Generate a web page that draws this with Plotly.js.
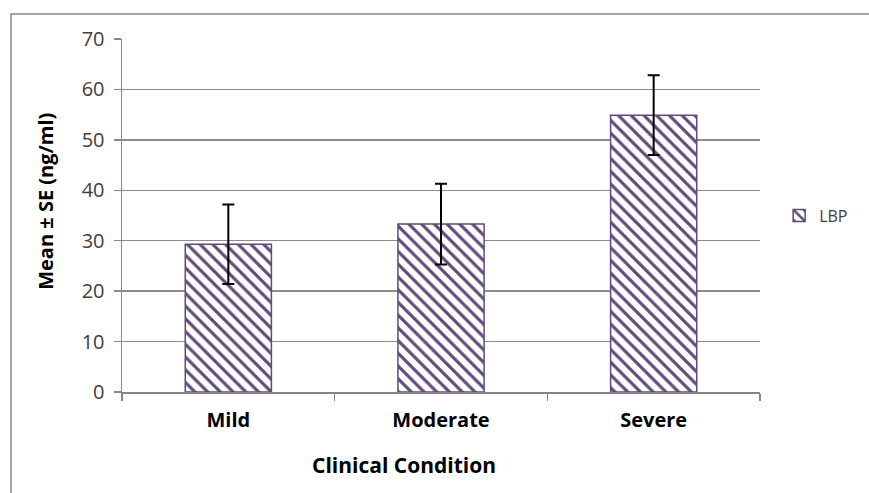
<!DOCTYPE html>
<html>
<head>
<meta charset="utf-8">
<script src="https://cdn.plot.ly/plotly-3.0.1.min.js"></script>
<style>html,body{margin:0;padding:0;background:#fff;}#chart{width:869px;height:493px;}</style>
</head>
<body>
<div id="chart"></div>
<script>
const categories = ["Mild", "Moderate", "Severe"];
const meanValues = [29.3, 33.3, 54.9];
const seValues = [7.9, 8.0, 7.9];
const seriesName = "LBP";
const yTicks = [0, 10, 20, 30, 40, 50, 60, 70];
const xTitle = "Clinical Condition";
const yTitle = "Mean ± SE (ng/ml)";

const purple = "#604A7B";
const trace = {
  type: "bar",
  x: categories,
  y: meanValues,
  name: seriesName,
  width: 0.405,
  marker: {
    color: "#ffffff",
    line: {color: purple, width: 1.5},
    pattern: {shape: "\\", fgcolor: purple, bgcolor: "#ffffff", size: 9, solidity: 0.35, fillmode: "replace"}
  },
  error_y: {type: "data", array: seValues, visible: true, color: "#000000", thickness: 2, width: 6}
};

const layout = {
  width: 869, height: 493,
  margin: {l: 122, r: 109, t: 39, b: 101},
  paper_bgcolor: "#ffffff", plot_bgcolor: "#ffffff",
  font: {family: "Open Sans, Liberation Sans, sans-serif", color: "#404040", size: 15},
  showlegend: true,
  legend: {x: 1.03, y: 0.5, xanchor: "left", yanchor: "middle", font: {size: 16, color: "#404040"}, bgcolor: "rgba(0,0,0,0)"},
  xaxis: {
    type: "category",
    showline: true, linecolor: "#868686", linewidth: 1.5,
    ticks: "outside", tickson: "boundaries", ticklen: 7, tickcolor: "#868686", tickwidth: 1.5,
    showgrid: false,
    ticklabelstandoff: 9,
    tickfont: {size: 20, color: "#000000", weight: "bold"}
  },
  yaxis: {
    range: [0, 70], tickvals: yTicks,
    showline: true, linecolor: "#868686", linewidth: 1.5,
    ticks: "outside", ticklen: 7, tickcolor: "#868686", tickwidth: 1.5,
    showgrid: true, gridcolor: "#8c8c8c", gridwidth: 1.3,
    zeroline: false,
    tickfont: {size: 20, color: "#404040"},
    ticklabelstandoff: 5
  },
  annotations: [
    {text: xTitle, xref: "paper", yref: "paper", x: 0.442, y: -0.207, xanchor: "center", yanchor: "middle",
     showarrow: false, font: {size: 21, color: "#000000", weight: "bold"}},
    {text: yTitle, xref: "paper", yref: "paper", x: -0.121, y: 0.541, xanchor: "center", yanchor: "middle",
     textangle: -90, showarrow: false, font: {size: 20, color: "#000000", weight: "bold"}}
  ],
  shapes: [{
    type: "rect", xref: "paper", yref: "paper",
    x0: -0.174, x1: 1.2, y0: -0.35, y1: 1.071,
    line: {color: "#868686", width: 1.5}, fillcolor: "rgba(0,0,0,0)", layer: "below"
  }]
};

Plotly.newPlot("chart", [trace], layout, {displayModeBar: false, staticPlot: true});
</script>
</body>
</html>
